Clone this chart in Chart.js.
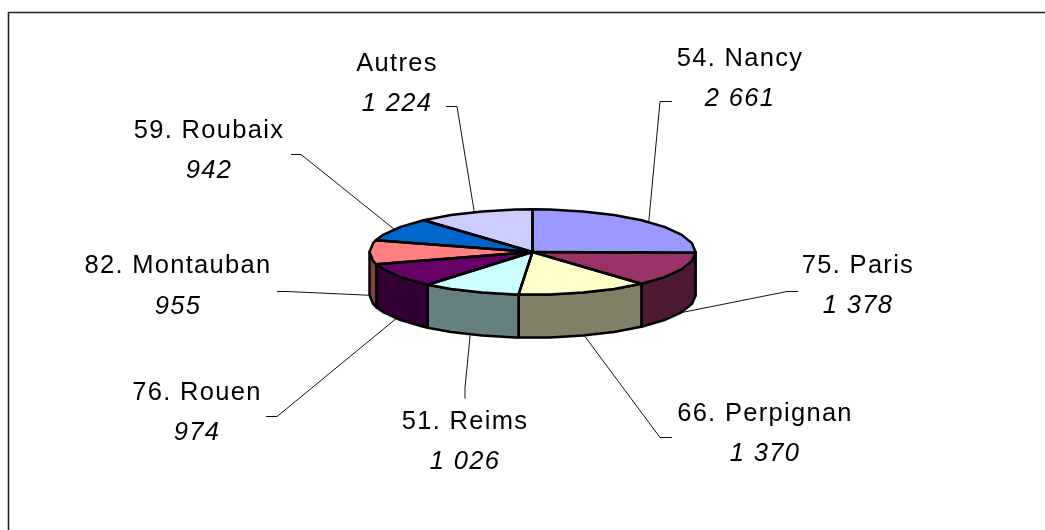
<!DOCTYPE html>
<html>
<head>
<meta charset="utf-8">
<style>
  html, body { margin: 0; padding: 0; background: #fff; overflow: hidden; }
  canvas { display: block; }
</style>
<script src="https://cdn.jsdelivr.net/npm/chart.js@4"></script>
</head>
<body>
<canvas id="myChart" width="1045" height="530"></canvas>
<script>
// data, clockwise from 12 o'clock
const categories = ['54. Nancy', '75. Paris', '66. Perpignan', '51. Reims', '76. Rouen', '82. Montauban', '59. Roubaix', 'Autres'];
const values = [2661, 1378, 1370, 1026, 974, 955, 942, 1224];
const valueLabels = ['2 661', '1 378', '1 370', '1 026', '974', '955', '942', '1 224'];
const sliceColors = ['#9999FF', '#993366', '#FFFFCC', '#CCFFFF', '#660066', '#FF8080', '#0066CC', '#CCCCFF'];

// where the text and the leader elbow sit: [centre x, name baseline, value baseline, stub x, stub y, elbow x, elbow y]
const labelLayout = [
  [740, 66, 106, 672, 101, 660, 101],
  [858, 273, 313, 798, 291, 787, 291],
  [765, 421, 461, 672, 437, 660, 437],
  [465, 429, 469, 465, 398, 465, 387],
  [197, 400, 440, 266, 416, 277, 416],
  [178, 273, 314, 277, 291, 287, 291],
  [209, 138, 178, 291, 154, 301, 154],
  [397, 71, 111, 446, 106, 457, 106]
];

const squash = 0.262;  // height / width of the top face
const depth = 43;      // thickness of the pie
const facet = Math.PI / 15; // excel draws the rim as straight pieces

function halfColor(hex) {
  const n = parseInt(hex.slice(1), 16);
  return 'rgb(' + (n >> 16) / 2 + ',' + ((n >> 8) & 255) / 2 + ',' + (n & 255) / 2 + ')';
}

// points along the rim between two angles, snapped to the facets
function rimPoints(arc, from, to, drop) {
  const pts = [];
  const add = a => pts.push([arc.x + Math.cos(a) * arc.outerRadius, arc.y + Math.sin(a) * arc.outerRadius * squash + drop]);
  add(from);
  for (let k = Math.ceil(from / facet + 0.001); k * facet < to; k++) add(k * facet);
  add(to);
  return pts;
}

function tracePoints(ctx, pts) {
  pts.forEach((p, i) => i ? ctx.lineTo(p[0], p[1]) : ctx.moveTo(p[0], p[1]));
}

const pie3d = {
  id: 'pie3d',
  beforeDatasetsDraw(chart) {
    const ctx = chart.ctx;
    const arcs = chart.getDatasetMeta(0).data;

    // outer frame, cut by the picture on the right and at the bottom
    ctx.save();
    ctx.strokeStyle = '#222';
    ctx.lineWidth = 1.6;
    ctx.beginPath();
    ctx.moveTo(8.5, 530);
    ctx.lineTo(8.5, 12.5);
    ctx.lineTo(1045, 12.5);
    ctx.stroke();

    // side walls, only the front half shows
    ctx.lineJoin = 'round';
    ctx.lineWidth = 2.5;
    ctx.strokeStyle = '#000';
    arcs.forEach((arc, i) => {
      const from = Math.max(arc.startAngle, 0);
      const to = Math.min(arc.endAngle, Math.PI);
      if (to <= from) return;
      ctx.beginPath();
      tracePoints(ctx, rimPoints(arc, from, to, 0).concat(rimPoints(arc, from, to, depth).reverse()));
      ctx.closePath();
      ctx.fillStyle = halfColor(sliceColors[i]);
      ctx.fill();
      ctx.stroke();
    });
    ctx.restore();

    // the library fills the slices, flattened into the top face
    const first = arcs[0];
    ctx.save();
    ctx.translate(first.x, first.y);
    ctx.scale(1, squash);
    ctx.translate(-first.x, -first.y);
  },
  afterDatasetsDraw(chart) {
    const ctx = chart.ctx;
    ctx.restore();
    const arcs = chart.getDatasetMeta(0).data;

    // outlines are done here so the squash does not thin them
    ctx.save();
    ctx.lineJoin = 'round';
    ctx.lineWidth = 2.5;
    ctx.strokeStyle = '#000';
    arcs.forEach(arc => {
      ctx.beginPath();
      tracePoints(ctx, [[arc.x, arc.y]].concat(rimPoints(arc, arc.startAngle, arc.endAngle, 0)));
      ctx.closePath();
      ctx.stroke();
    });
    ctx.restore();

    // leader lines and labels
    ctx.save();
    ctx.letterSpacing = '1.3px';
    ctx.textAlign = 'center';
    ctx.textBaseline = 'alphabetic';
    ctx.fillStyle = '#000';
    arcs.forEach((arc, i) => {
      const [cx, nameY, valueY, stubX, stubY, elbowX, elbowY] = labelLayout[i];
      const mid = (arc.startAngle + arc.endAngle) / 2;
      // front slices are reached on the bottom edge of their wall
      const drop = Math.sin(mid) > -0.02 ? depth : 0;
      ctx.strokeStyle = '#111';
      ctx.lineWidth = 1;
      ctx.beginPath();
      ctx.moveTo(stubX, stubY + 0.5);
      ctx.lineTo(elbowX, elbowY + 0.5);
      ctx.lineTo(arc.x + Math.cos(mid) * arc.outerRadius, arc.y + Math.sin(mid) * arc.outerRadius * squash + drop);
      ctx.stroke();

      ctx.font = '25.5px "Liberation Sans"';
      ctx.fillText(categories[i], cx, nameY);
      ctx.font = 'italic 25.5px "Liberation Sans"';
      ctx.fillText(valueLabels[i], cx, valueY);
    });
    ctx.restore();
  }
};

const data = {
  labels: categories,
  datasets: [{
    data: values,
    backgroundColor: sliceColors,
    borderWidth: 0
  }]
};

const config = {
  type: 'pie',
  data: data,
  options: {
    responsive: false,
    animation: false,
    layout: { padding: { left: 369, right: 349, top: 89, bottom: 115 } },
    plugins: { legend: { display: false }, tooltip: { enabled: false } }
  },
  plugins: [pie3d]
};

const myChart = new Chart(document.getElementById('myChart'), config);
</script>
</body>
</html>
